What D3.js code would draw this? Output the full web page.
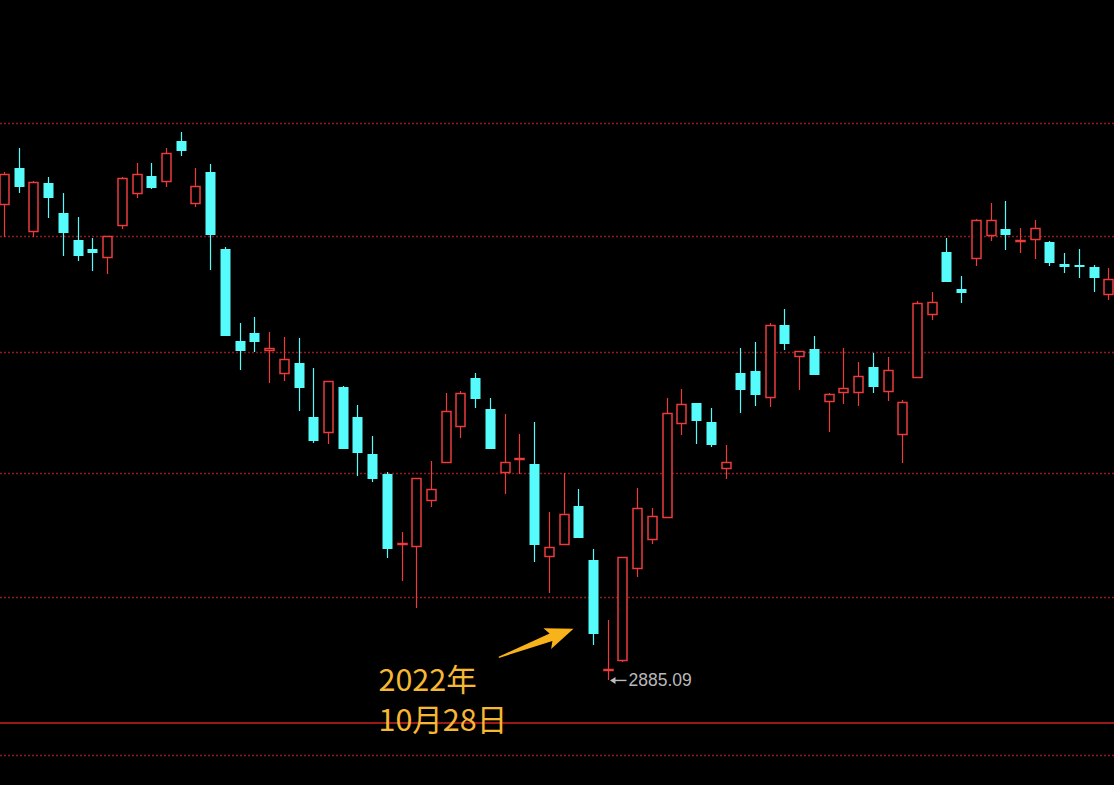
<!DOCTYPE html>
<html><head><meta charset="utf-8">
<script src="https://cdn.jsdelivr.net/npm/d3@7"></script>
<style>html,body{margin:0;padding:0;background:#000;overflow:hidden}</style>
</head><body>
<svg id="c" width="1114" height="785"></svg>
<script>
// ---- data (daily candles, index order left->right) ----
const open  = [3278.3,3310.2,3254.7,3296.9,3270.4,3246.8,3239.0,3232.0,3259.9,3288.0,3303.1,3298.7,3334.3,3279.2,3306.6,3239.0,3160.0,3166.8,3152.3,3133.0,3141.4,3096.2,3083.7,3121.2,3096.2,3065.5,3049.1,2992.4,2990.8,3027.9,3059.0,3088.7,3128.7,3102.8,3050.8,3061.4,3057.3,2982.7,2992.4,3023.0,2979.5,2892.8,2900.6,2973.1,2996.4,3014.1,3091.2,3107.8,3092.0,3054.0,3133.0,3134.6,3112.8,3173.6,3147.3,3153.2,3109.5,3117.0,3117.0,3137.9,3117.8,3082.0,3129.6,3183.0,3236.4,3204.4,3231.2,3251.2,3256.4,3246.0,3247.7,3245.1,3226.0,3224.7,3223.4,3200.1];
const high  = [3306.6,3328.0,3298.0,3302.2,3288.0,3266.9,3248.6,3250.3,3302.2,3314.6,3314.6,3328.0,3342.3,3310.2,3313.7,3240.7,3175.3,3180.4,3167.6,3163.4,3162.5,3137.1,3126.3,3121.4,3106.1,3080.4,3050.8,3002.0,3045.9,3059.8,3116.2,3117.8,3133.0,3111.9,3098.6,3082.0,3092.0,3018.2,3050.0,3036.9,2988.4,2931.9,2982.0,3037.7,3021.4,3111.9,3119.5,3108.0,3103.6,3072.9,3154.0,3159.1,3175.3,3187.2,3151.6,3164.2,3116.2,3154.0,3142.2,3149.8,3146.4,3110.3,3194.1,3201.8,3248.6,3215.6,3265.2,3279.2,3281.0,3257.3,3264.3,3246.0,3235.5,3239.0,3225.1,3222.5];
const low   = [3249.4,3288.0,3249.4,3266.1,3232.9,3228.6,3219.9,3217.3,3256.4,3283.6,3291.6,3293.3,3320.9,3275.7,3220.8,3164.0,3135.5,3150.6,3124.5,3126.2,3101.1,3074.6,3073.8,3069.5,3047.5,3042.6,2981.1,2962.8,2941.4,3022.2,3058.8,3078.7,3103.6,3069.5,3032.8,3049.1,2977.9,2953.3,2992.2,2997.0,2912.3,2885.09,2899.0,2966.0,2992.4,3014.0,3081.2,3073.8,3071.3,3045.0,3099.5,3105.3,3104.5,3152.3,3118.7,3131.1,3083.7,3107.0,3105.3,3116.2,3109.5,3058.2,3129.5,3177.8,3210.2,3192.4,3224.2,3246.0,3238.1,3235.5,3230.3,3224.2,3218.2,3213.9,3201.8,3194.9];
const close = [3304.9,3293.3,3297.8,3283.6,3252.9,3232.9,3235.5,3250.2,3301.3,3304.9,3292.5,3323.5,3325.3,3294.2,3251.2,3164.2,3151.5,3159.1,3154.0,3144.7,3120.3,3076.3,3126.2,3069.7,3066.4,3045.0,2988.4,2993.2,3045.8,3036.9,3101.1,3116.2,3111.1,3069.7,3059.0,3062.2,2991.6,2990.0,3016.6,2997.2,2921.0,2893.6,2981.9,3021.4,3015.0,3099.5,3107.0,3092.8,3072.9,3059.0,3118.7,3114.5,3173.6,3157.4,3151.5,3131.3,3115.3,3120.3,3130.4,3121.2,3135.5,3108.6,3192.4,3193.2,3210.4,3200.9,3264.3,3264.3,3251.2,3246.8,3257.3,3226.8,3223.4,3223.4,3213.9,3213.0];
const gridLevels = [3350, 3250, 3150, 3050, 2950];
const annotationLines = ["2022年", "10月28日"];
const annotatedIndex = 40;   // 2022-10-28 candle
const lowIndex = 41;         // candle holding the low
const lowLabel = "2885.09";

// ---- layout / style ----
const W = 1114, H = 785;
const mainBottom = 723, subGrid = 755;
const UP = "#ec3b3b", DOWN = "#56fcfc", GRID = "#8e1c1c";
const bodyW = 10;

const svg = d3.select("#c");
svg.append("rect").attr("width", W).attr("height", H).attr("fill", "#000");

const idx = d3.range(open.length);
const x = d3.scaleLinear().domain([0, open.length - 1]).range([4, 1108.4]);
const y = d3.scaleLog().domain([2950, 3350]).range([597, 123]);
const cx = i => Math.round(x(i)) + 0.5;
const py = v => Math.round(y(v)) + 0.5;

// grid
svg.append("g").selectAll("line").data(gridLevels).join("line")
  .attr("x1", 0).attr("x2", W)
  .attr("y1", d => py(d)).attr("y2", d => py(d))
  .attr("stroke", GRID).attr("stroke-width", 1.3)
  .attr("stroke-dasharray", "2,2");
svg.append("line").attr("x1", 0).attr("x2", W).attr("y1", mainBottom).attr("y2", mainBottom)
  .attr("stroke", "#9a1818").attr("stroke-width", 1.8);
svg.append("line").attr("x1", 0).attr("x2", W).attr("y1", subGrid + 0.5).attr("y2", subGrid + 0.5)
  .attr("stroke", GRID).attr("stroke-width", 1.3).attr("stroke-dasharray", "2,2");

// candles
const g = svg.append("g");
idx.forEach(i => {
  const o = open[i], c = close[i], h = high[i], l = low[i];
  const up = c >= o;
  const X = cx(i);
  const yTop = Math.round(y(Math.max(o, c)));
  const yBot = Math.round(y(Math.min(o, c)));
  const yH = Math.round(y(h)), yL = Math.round(y(l));
  if (up) {
    if (yTop > yH) g.append("line").attr("x1", X).attr("x2", X).attr("y1", yH).attr("y2", yTop).attr("stroke", UP).attr("stroke-width", 1.2);
    if (yL > yBot) g.append("line").attr("x1", X).attr("x2", X).attr("y1", yBot).attr("y2", yL).attr("stroke", UP).attr("stroke-width", 1.2);
    g.append("rect").attr("x", X - bodyW / 2 + 0.5).attr("y", yTop + 0.5)
      .attr("width", bodyW - 1).attr("height", Math.max(0, yBot - yTop))
      .attr("fill", "#000").attr("stroke", UP).attr("stroke-width", 1.5);
  } else {
    g.append("line").attr("x1", X).attr("x2", X).attr("y1", yH).attr("y2", yL).attr("stroke", DOWN).attr("stroke-width", 1.2);
    g.append("rect").attr("x", X - bodyW / 2).attr("y", yTop)
      .attr("width", bodyW).attr("height", Math.max(2, yBot - yTop))
      .attr("fill", DOWN);
  }
});

// low marker "←2885.09"
const lx = cx(lowIndex), ly = y(low[lowIndex]);
svg.append("line").attr("x1", lx + 3).attr("x2", lx + 18).attr("y1", ly + 0.5).attr("y2", ly + 0.5)
  .attr("stroke", "#bcbcbc").attr("stroke-width", 1.4);
svg.append("path").attr("d", `M${lx + 1.5},${ly + 0.5} L${lx + 7},${ly - 3} L${lx + 7},${ly + 4} Z`).attr("fill", "#bcbcbc");
svg.append("text").attr("x", lx + 20).attr("y", ly + 6.5)
  .attr("font-family", "Liberation Sans, Arial, sans-serif").attr("font-size", 17.5)
  .attr("fill", "#b8b8b8").text(lowLabel);

// annotation arrow pointing at the 10-28 candle
const tipX = cx(annotatedIndex) - 20, tipY = y(close[annotatedIndex]) - 5;
const ang = Math.atan2(-28, 75) * 180 / Math.PI;
svg.append("path")
  .attr("d", "M-80,0 L-24,-4 L-28,-11 L0,0 L-28,11 L-24,4 L-80,1.2 Z")
  .attr("transform", `translate(${tipX},${tipY}) rotate(${ang})`)
  .attr("fill", "#f8b21a");

// annotation text
const tx = cx(annotatedIndex) - 215;
svg.append("g").selectAll("text").data(annotationLines).join("text")
  .attr("x", tx).attr("y", (d, i) => tipY + 62 + i * 40)
  .attr("font-family", "Noto Sans CJK SC, sans-serif").attr("font-size", 30.5)
  .attr("fill", "#f6b733").text(d => d);
</script>
</body></html>
